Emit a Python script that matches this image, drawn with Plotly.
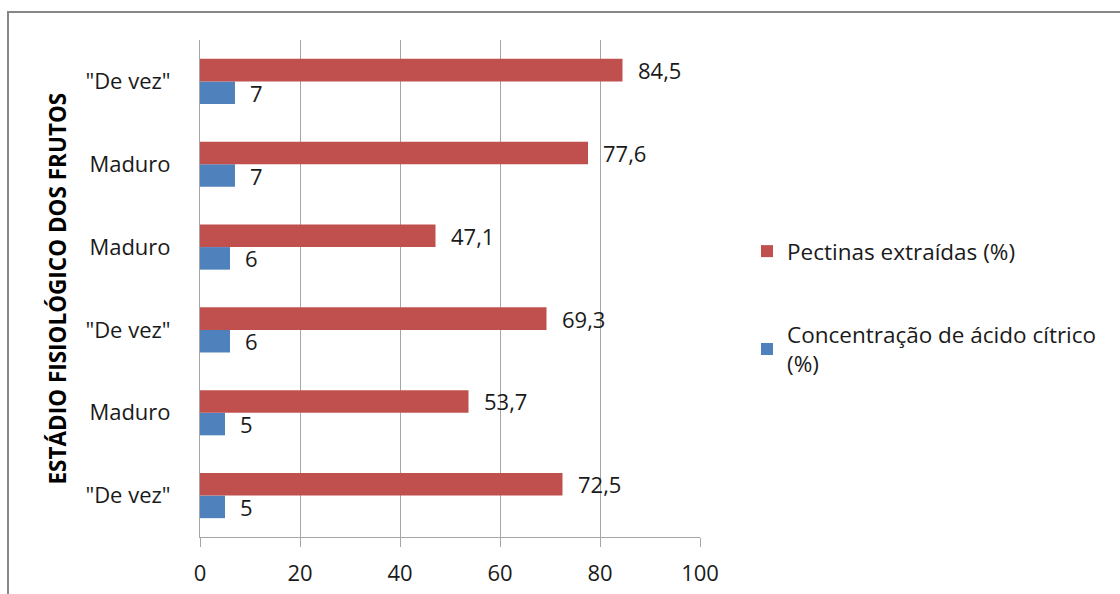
import plotly.graph_objects as go

categories = ['"De vez"', 'Maduro', '"De vez"', 'Maduro', 'Maduro', '"De vez"']
pectinas = [72.5, 53.7, 69.3, 47.1, 77.6, 84.5]
acido = [5, 5, 6, 6, 7, 7]
pectinas_labels = ["72,5", "53,7", "69,3", "47,1", "77,6", "84,5"]
acido_labels = ["5", "5", "6", "6", "7", "7"]
x_ticks = [0, 20, 40, 60, 80, 100]

positions = list(range(len(categories)))

FONT = "Open Sans"
RED = "#C0504D"
BLUE = "#4F81BD"

fig = go.Figure()
fig.add_trace(go.Bar(
    y=positions, x=acido, orientation="h", name="Concentração de ácido cítrico<br>(%)",
    marker=dict(color=BLUE, line=dict(width=0)), legendgroup="b", legendrank=2,
))
fig.add_trace(go.Bar(
    y=positions, x=pectinas, orientation="h", name="Pectinas extraídas (%)",
    marker=dict(color=RED, line=dict(width=0)), legendgroup="a", legendrank=1,
))

L, R, T, B = 200, 420, 40, 57
W, H = 1120, 594
bargap = 0.455
slot = (1 - bargap) / 2

annotations = []
for p, v, t in zip(positions, pectinas, pectinas_labels):
    annotations.append(dict(x=v, y=p + slot / 2, xref="x", yref="y", text=t, showarrow=False,
                            xanchor="left", xshift=13, font=dict(family=FONT, size=22, color="#1a1a1a")))
for p, v, t in zip(positions, acido, acido_labels):
    annotations.append(dict(x=v, y=p - slot / 2, xref="x", yref="y", text=t, showarrow=False,
                            xanchor="left", xshift=13, font=dict(family=FONT, size=22, color="#1a1a1a")))

annotations.append(dict(x=(57 - L) / (W - L - R), y=0.5, xref="paper", yref="paper",
                        text="<b>ESTÁDIO FISIOLÓGICO DOS FRUTOS</b>", textangle=-90, showarrow=False,
                        xanchor="center", yanchor="middle",
                        font=dict(family=FONT, size=22.5, color="#000000")))

pw = W - L - R
ph = H - T - B
shapes = [dict(type="rect", xref="paper", yref="paper",
               x0=(8 - L) / pw, x1=(1130 - L) / pw,
               y0=1 - (610 - T) / ph, y1=1 - (12 - T) / ph,
               line=dict(color="#878787", width=2), fillcolor="rgba(0,0,0,0)", layer="below")]

fig.update_layout(
    width=W, height=H,
    margin=dict(l=L, r=R, t=T, b=B, autoexpand=False),
    paper_bgcolor="white", plot_bgcolor="white",
    barmode="group", bargap=bargap, bargroupgap=0,
    font=dict(family=FONT, size=22, color="#1a1a1a"),
    xaxis=dict(range=[0, 100], tickvals=x_ticks, ticktext=[str(v) for v in x_ticks],
               showgrid=True, gridcolor="#a6a6a6", gridwidth=1,
               showline=True, linecolor="#a6a6a6", linewidth=1,
               ticks="outside", ticklen=9, tickcolor="#a6a6a6", ticklabelstandoff=8,
               zeroline=False, tickfont=dict(size=22, family=FONT, color="#1a1a1a"), fixedrange=True),
    yaxis=dict(range=[-0.5, 5.5], tickvals=positions, ticktext=categories,
               showgrid=False, showline=True, linecolor="#a6a6a6", linewidth=1,
               ticks="", ticklabelstandoff=24, zeroline=False,
               tickfont=dict(size=22, family=FONT, color="#1a1a1a"), fixedrange=True),
    legend=dict(x=(747 - L) / pw, y=(H - B - 230) / ph, xanchor="left", yanchor="top",
                traceorder="grouped", tracegroupgap=51,
                font=dict(family=FONT, size=22.5, color="#1a1a1a"),
                bgcolor="rgba(0,0,0,0)"),
    annotations=annotations,
    shapes=shapes,
    showlegend=True,
)

fig.write_html("out.html")
